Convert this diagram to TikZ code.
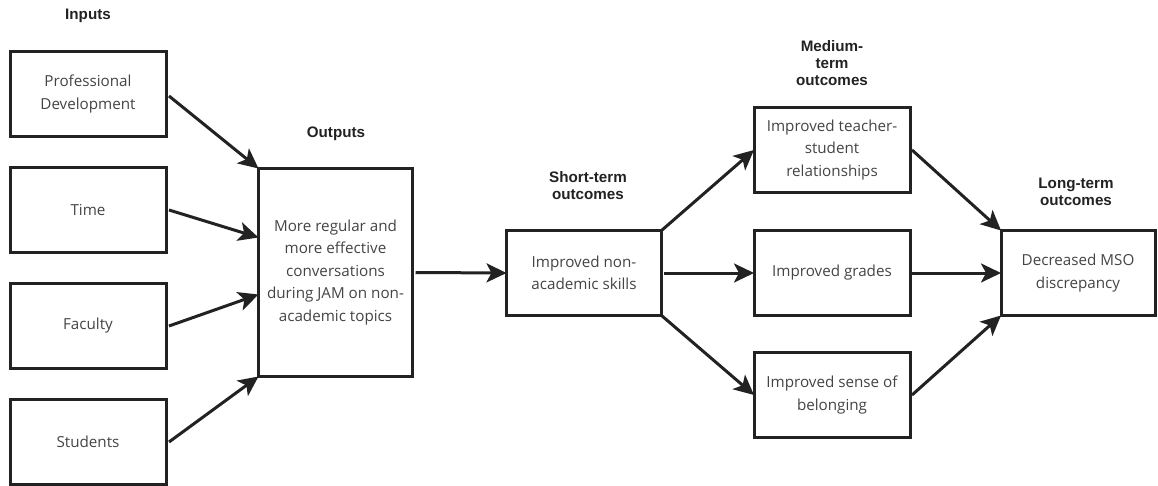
\documentclass[tikz,border=0pt]{standalone}
\usepackage{fontspec}
\setmainfont{Open Sans}
\newfontfamily\labelfont{Liberation Sans}
\usetikzlibrary{arrows.meta}
\definecolor{boxline}{HTML}{222222}
\definecolor{boxtext}{HTML}{444444}
\begin{document}
\begin{tikzpicture}[x=1pt,y=-1pt,
  box/.style={draw=boxline, line width=3pt, align=center, text=boxtext,
    font=\fontsize{15.2}{22.5}\selectfont, inner sep=0pt, outer sep=0pt},
  sbox/.style={box, minimum width=156pt, minimum height=85pt},
  hdr/.style={align=center, text=boxline, font=\labelfont\bfseries\fontsize{15.2}{17}\selectfont, inner sep=0pt},
  arr/.style={draw=boxline, line width=3pt, -{Stealth[length=20pt,width=19pt,inset=5pt]}}
]
\useasboundingbox (0,0) rectangle (1158,486);
% inputs
\node[hdr] (hin) at (88,16) {Inputs};
\node[sbox] (pd) at (88,94) {Professional\\Development};
\node[sbox] (time) at (88,210) {Time};
\node[sbox] (fac) at (88,326) {Faculty};
\node[sbox] (stu) at (88,442) {Students};
% outputs
\node[hdr] (hout) at (336,134) {Outputs};
\node[box, minimum width=154pt, minimum height=208pt] (out) at (335.5,272.5)
  {More regular and\\more effective\\conversations\\during JAM on non-\\academic topics};
% short
\node[hdr] (hshort) at (588,185.5) {Short-term\\outcomes};
\node[box, minimum width=155pt, minimum height=85pt] (short) at (584,273) {Improved non-\\academic skills};
% medium
\node[hdr] (hmed) at (832,63) {Medium-\\term\\outcomes};
\node[sbox] (m1) at (832,150) {Improved teacher-\\student\\relationships};
\node[sbox] (m2) at (832,273) {Improved grades};
\node[sbox] (m3) at (832,395) {Improved sense of\\belonging};
% long
\node[hdr] (hlong) at (1076,192) {Long-term\\outcomes};
\node[box, minimum width=154pt, minimum height=85pt] (long) at (1078,273) {Decreased MSO\\discrepancy};
% arrows
\draw[arr] ([xshift=3pt,yshift=-2pt]pd.east) -- (out.north west);
\draw[arr] ([xshift=3pt]time.east) -- ([yshift=35pt]out.west);
\draw[arr] ([xshift=3pt]fac.east) -- ([yshift=-22pt]out.west);
\draw[arr] ([xshift=3pt]stu.east) -- (out.south west);
\draw[arr] ([xshift=3pt]out.east) -- (short.west);
\draw[arr] (short.north east) -- (m1.west);
\draw[arr] ([xshift=2pt]short.east) -- (m2.west);
\draw[arr] (short.south east) -- (m3.west);
\draw[arr] ([xshift=2pt]m1.east) -- (long.north west);
\draw[arr] ([xshift=2pt]m2.east) -- (long.west);
\draw[arr] ([xshift=2pt]m3.east) -- (long.south west);
\end{tikzpicture}
\end{document}
